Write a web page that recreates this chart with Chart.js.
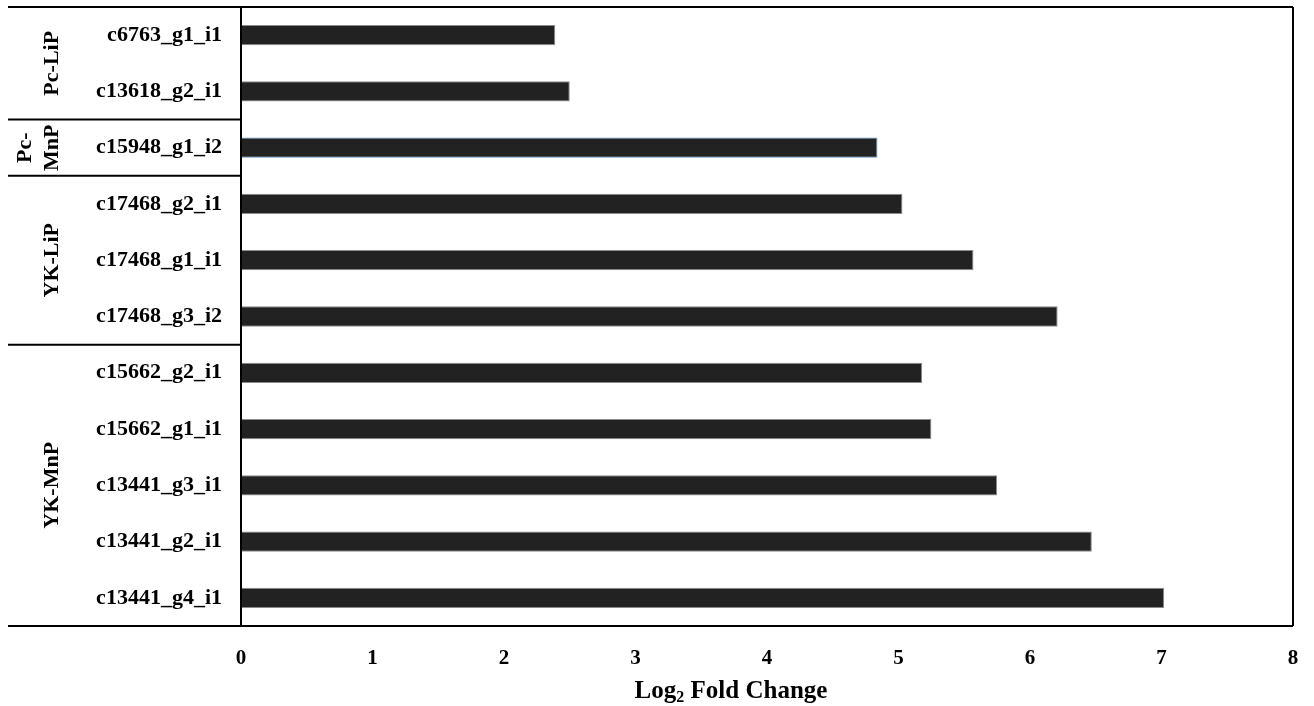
<!DOCTYPE html>
<html>
<head>
<meta charset="utf-8">
<script src="https://cdn.jsdelivr.net/npm/chart.js@4"></script>
<style>
  html, body { margin: 0; padding: 0; background: #fff; overflow: hidden; }
  #wrap { width: 1314px; height: 706px; }
</style>
</head>
<body>
<div id="wrap"><canvas id="chart"></canvas></div>
<script>
// Genes (de arriba a abajo) y su Log2 Fold Change
const genes = [
    'c6763_g1_i1', 'c13618_g2_i1', 'c15948_g1_i2',
    'c17468_g2_i1', 'c17468_g1_i1', 'c17468_g3_i2',
    'c15662_g2_i1', 'c15662_g1_i1', 'c13441_g3_i1', 'c13441_g2_i1', 'c13441_g4_i1'
];
const foldChange = [2.39, 2.50, 4.84, 5.03, 5.57, 6.21, 5.18, 5.25, 5.75, 6.47, 7.02];

// Grupos de la izquierda (nombre en líneas, número de genes)
const groupNames = [['Pc-LiP'], ['Pc-', 'MnP'], ['YK-LiP'], ['YK-MnP']];
const groupSizes = [2, 1, 3, 5];

const xTicks = [0, 1, 2, 3, 4, 5, 6, 7, 8];

const serif = "'Liberation Serif', 'Times New Roman', serif";
const barFill = '#222222';
const barEdge = genes.map((g, i) => i === 2 ? '#5b9bd5' : '#8a8a8a');

// Marco, separadores de grupo, etiquetas de grupo y título del eje X
const framePlugin = {
    id: 'frame',
    afterDraw(chart) {
        const ctx = chart.ctx;
        const a = chart.chartArea;
        const y = chart.scales.y;
        const leftEdge = 8;
        ctx.save();
        ctx.strokeStyle = '#000';
        ctx.lineWidth = 2;
        ctx.beginPath();
        ctx.moveTo(leftEdge, a.top); ctx.lineTo(a.right, a.top);
        ctx.moveTo(leftEdge, a.bottom); ctx.lineTo(a.right, a.bottom);
        ctx.moveTo(a.left, a.top); ctx.lineTo(a.left, a.bottom);
        ctx.moveTo(a.right, a.top); ctx.lineTo(a.right, a.bottom);
        ctx.stroke();

        let start = 0;
        groupSizes.forEach((n, gi) => {
            const end = start + n;
            const yTop = y.getPixelForValue(start - 0.5);
            const yBot = y.getPixelForValue(end - 0.5);
            if (end < genes.length) {
                ctx.beginPath();
                ctx.moveTo(leftEdge, yBot); ctx.lineTo(a.left, yBot);
                ctx.stroke();
            }
            const lines = groupNames[gi];
            const mid = (yTop + yBot) / 2;
            ctx.save();
            ctx.fillStyle = '#000';
            ctx.font = 'bold 22px ' + serif;
            ctx.textAlign = 'center';
            ctx.textBaseline = 'middle';
            lines.forEach((txt, li) => {
                const cx = 52 - (lines.length - 1 - li) * 27;
                ctx.save();
                ctx.translate(cx, mid);
                ctx.rotate(-Math.PI / 2);
                ctx.fillText(txt, 0, 0);
                ctx.restore();
            });
            ctx.restore();
            start = end;
        });

        // Título del eje X con subíndice
        ctx.fillStyle = '#000';
        ctx.textBaseline = 'alphabetic';
        ctx.textAlign = 'left';
        const big = 'bold 25px ' + serif;
        const small = 'bold 16px ' + serif;
        ctx.font = big;
        const w1 = ctx.measureText('Log').width;
        const w3 = ctx.measureText(' Fold Change').width;
        ctx.font = small;
        const w2 = ctx.measureText('2').width;
        const cx = 731;
        let x0 = cx - (w1 + w2 + w3) / 2;
        const base = 698;
        ctx.font = big;
        ctx.fillText('Log', x0, base);
        ctx.font = small;
        ctx.fillText('2', x0 + w1, base + 4);
        ctx.font = big;
        ctx.fillText(' Fold Change', x0 + w1 + w2, base);
        ctx.restore();
    }
};

new Chart(document.getElementById('chart'), {
    type: 'bar',
    data: {
        labels: genes,
        datasets: [{
            data: foldChange,
            backgroundColor: barFill,
            borderColor: barEdge,
            borderWidth: 1,
            borderSkipped: false,
            barPercentage: 0.36,
            categoryPercentage: 1
        }]
    },
    options: {
        indexAxis: 'y',
        responsive: true,
        maintainAspectRatio: false,
        animation: false,
        layout: { padding: { left: 8, right: 21, top: 7, bottom: 0 } },
        plugins: { legend: { display: false }, tooltip: { enabled: false } },
        scales: {
            x: {
                min: 0,
                max: 8,
                afterFit(s) {
                    s.height = 80;
                    s.paddingLeft = 0; s.paddingRight = 0;
                },
                afterBuildTicks(s) { s.ticks = xTicks.map(v => ({ value: v })); },
                grid: { display: false, drawTicks: false },
                border: { display: false },
                ticks: {
                    color: '#000',
                    padding: 20,
                    font: { family: serif, size: 21, weight: 'bold' }
                }
            },
            y: {
                afterFit(s) {
                    s.width = 233;
                    s.paddingTop = 0; s.paddingBottom = 0;
                },
                grid: { display: false, drawTicks: false },
                border: { display: false },
                ticks: {
                    color: '#000',
                    padding: 19,
                    font: { family: serif, size: 22, weight: 'bold' }
                }
            }
        }
    },
    plugins: [framePlugin]
});
</script>
</body>
</html>
